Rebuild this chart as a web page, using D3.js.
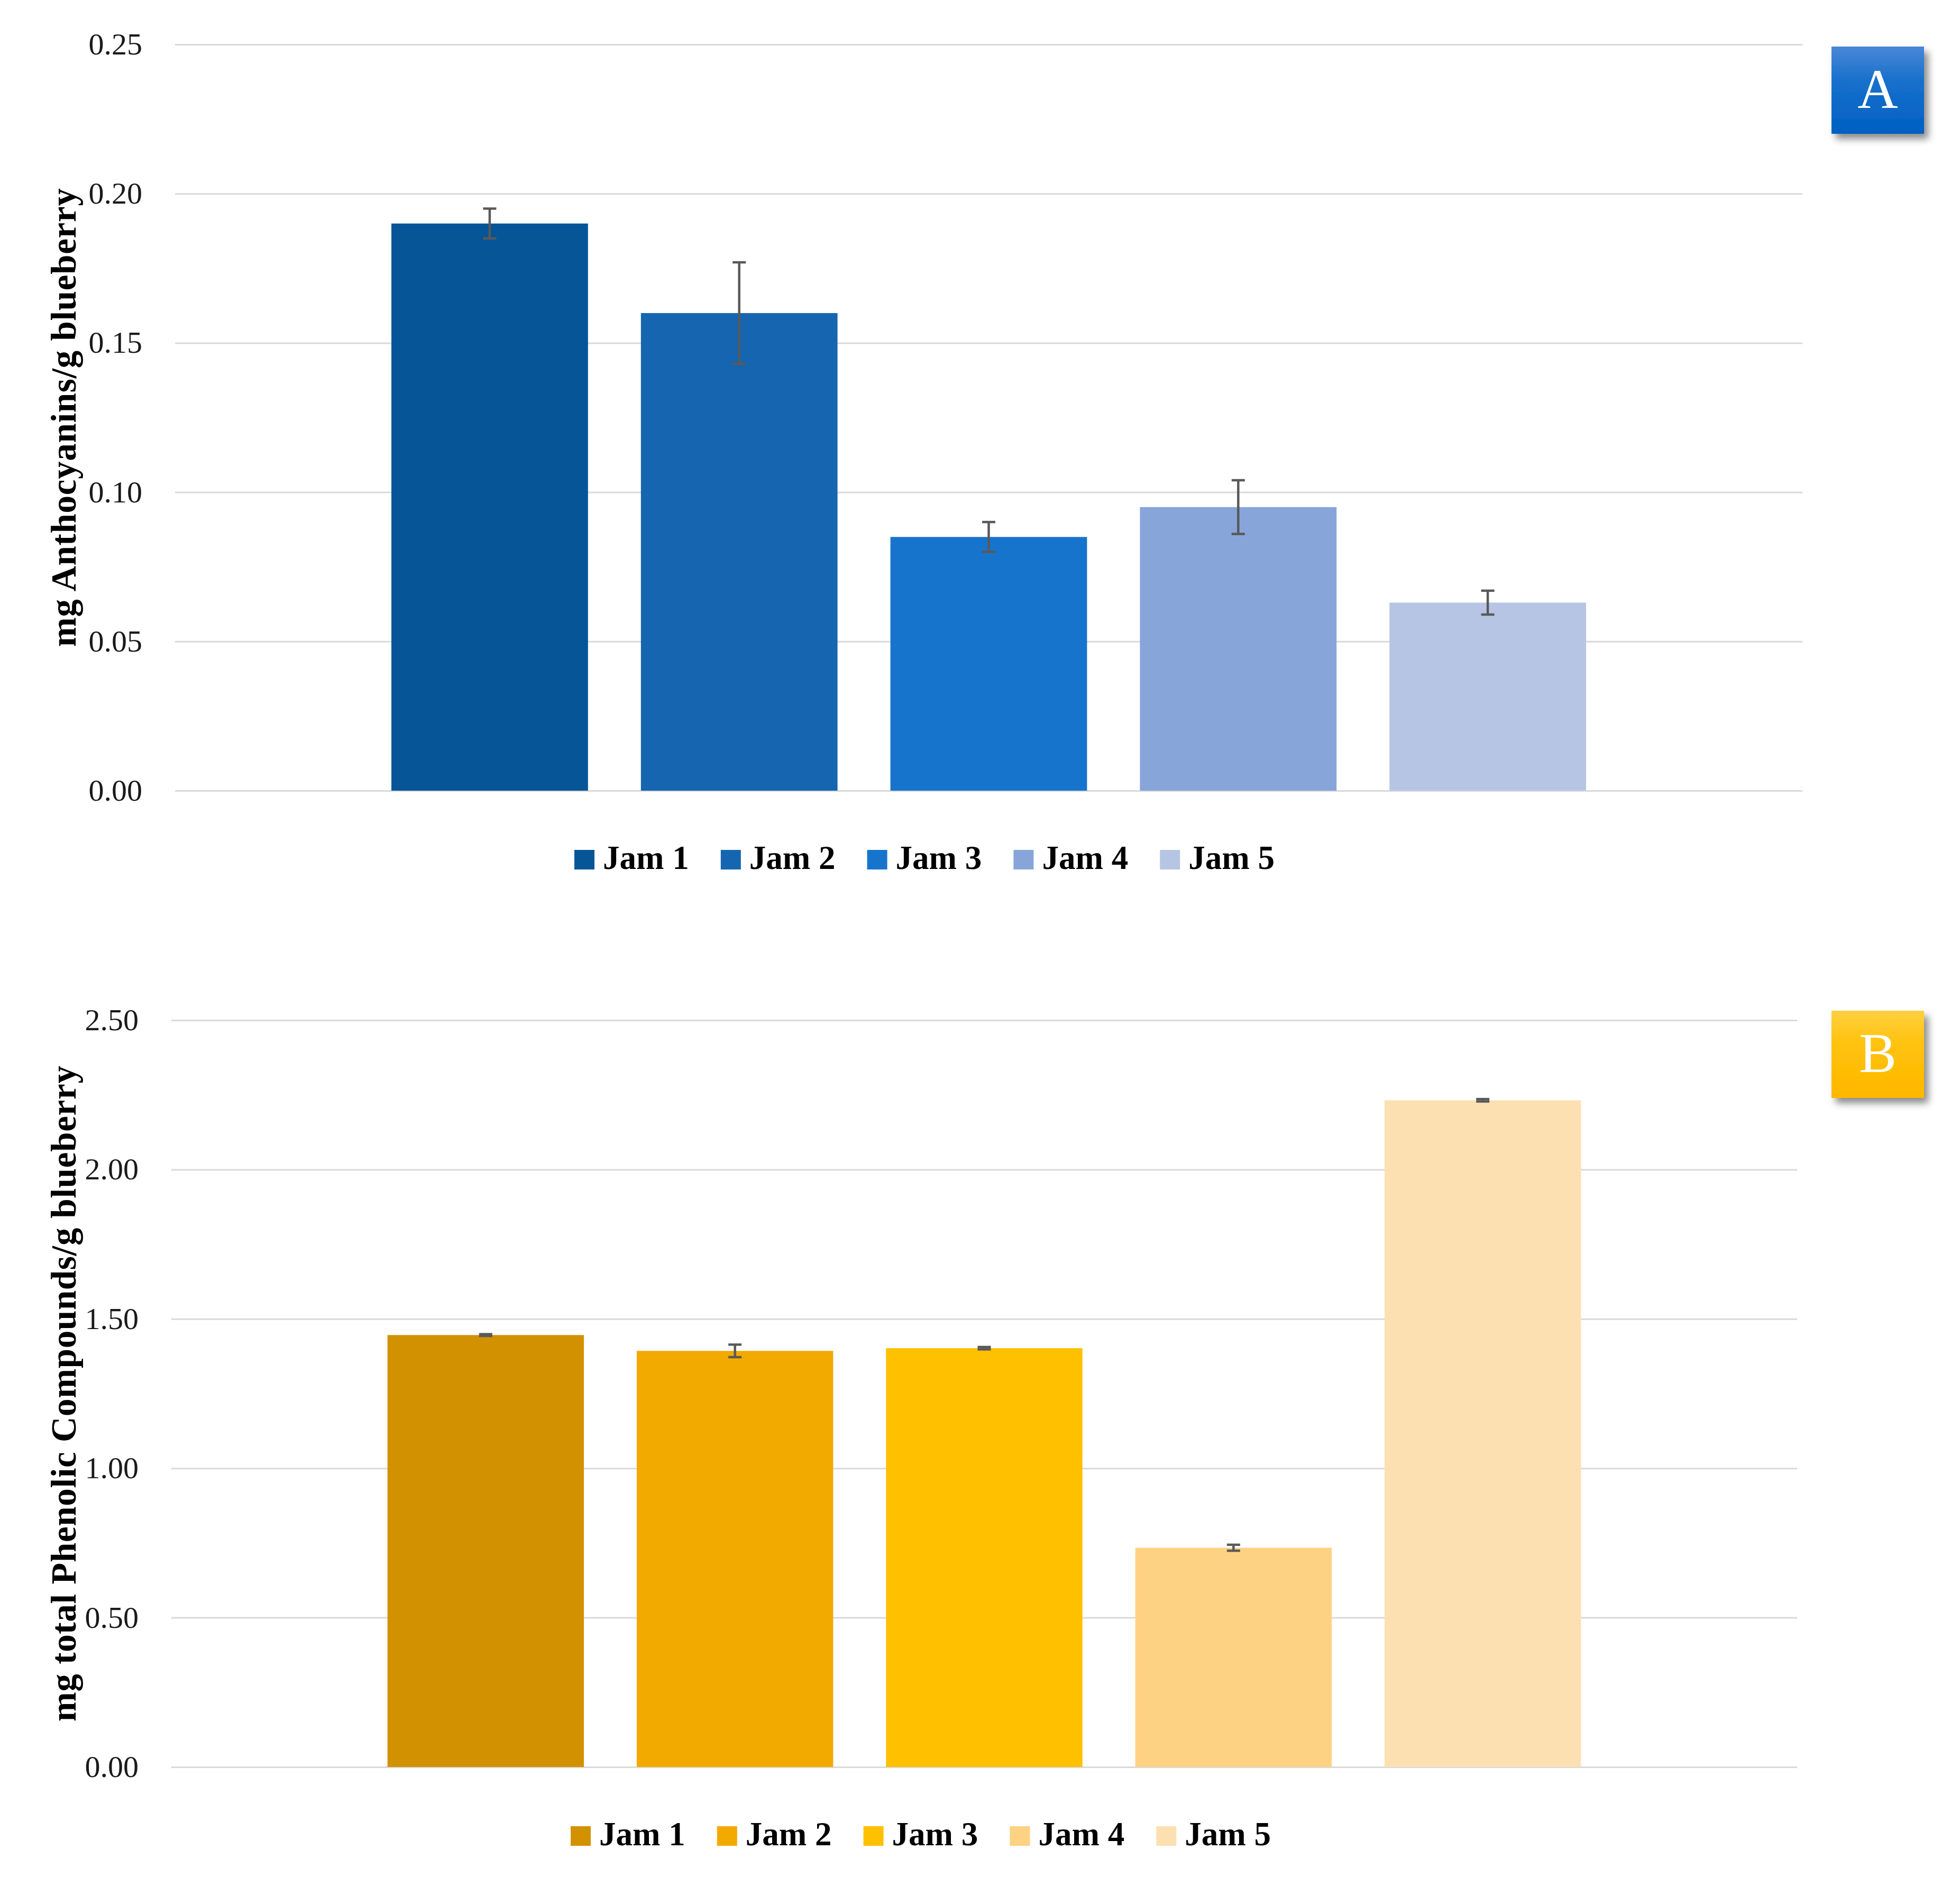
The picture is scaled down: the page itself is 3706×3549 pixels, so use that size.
<!DOCTYPE html>
<html>
<head>
<meta charset="utf-8">
<script src="https://cdn.jsdelivr.net/npm/d3@7"></script>
<style>
  body { margin: 0; background: #fff; }
</style>
</head>
<body>
<script>
// values
var jams = ["Jam 1", "Jam 2", "Jam 3", "Jam 4", "Jam 5"];

var anthocyanins = [0.190, 0.160, 0.085, 0.095, 0.063];
var anthocyaninsSd = [0.005, 0.017, 0.005, 0.009, 0.004];
var ticksA = [0, 0.05, 0.10, 0.15, 0.20, 0.25];
var colorsA = ["#065597", "#1565b0", "#1774cc", "#88a5d9", "#b7c5e5"];

var phenolics = [1.446, 1.393, 1.402, 0.734, 2.232];
var phenolicsSd = [0.003, 0.021, 0.004, 0.010, 0.004];
var ticksB = [0, 0.5, 1.0, 1.5, 2.0, 2.5];
var colorsB = ["#d29200", "#f3aa00", "#ffc000", "#fed283", "#fde0b2"];

var serif = "'Liberation Serif', 'DejaVu Serif', serif";

const svg = d3.select("body")
              .append("svg")
              .attr("width", 3706)
              .attr("height", 3549);

var defs = svg.append("defs");

defs.append("filter")
    .attr("id", "shadow")
    .attr("x", "-20%").attr("y", "-20%")
    .attr("width", "150%").attr("height", "150%")
  .append("feDropShadow")
    .attr("dx", 8).attr("dy", 10)
    .attr("stdDeviation", 7)
    .attr("flood-color", "#000")
    .attr("flood-opacity", 0.45);

function makeGradient(id, top, mid, bottom) {
  var grad = defs.append("linearGradient")
                 .attr("id", id)
                 .attr("x1", 0).attr("y1", 0)
                 .attr("x2", 0).attr("y2", 1);
  grad.append("stop").attr("offset", "0%").attr("stop-color", top);
  grad.append("stop").attr("offset", "40%").attr("stop-color", mid);
  grad.append("stop").attr("offset", "100%").attr("stop-color", bottom);
}
makeGradient("gradA", "#4a87d6", "#1670cc", "#0060c2");
makeGradient("gradB", "#ffd040", "#ffc20a", "#ffb700");

function drawPanel(opt) {
  var data = jams.map(function(j, i) {
    return {jam: j, value: opt.values[i], sd: opt.sd[i], color: opt.colors[i]};
  });

  var g = svg.append("g");

  var y = d3.scaleLinear()
            .domain([0, d3.max(opt.ticks)])
            .range([opt.base, opt.top]);

  var x = d3.scaleBand()
            .domain(jams)
            .range([opt.left, opt.right])
            .paddingInner(0.212)
            .paddingOuter(0.867);

  // gridlines and tick labels
  g.append("g")
    .attr("transform", "translate(" + opt.left + ",0)")
    .call(d3.axisLeft(y)
            .tickValues(opt.ticks)
            .tickSize(-(opt.right - opt.left))
            .tickPadding(62)
            .tickFormat(d3.format(".2f")))
    .attr("font-family", serif)
    .attr("font-size", 58)
    .call(function(a) { a.select(".domain").remove(); })
    .call(function(a) {
      a.selectAll(".tick line").attr("stroke", "#d9d9d9").attr("stroke-width", 3);
    })
    .call(function(a) {
      a.selectAll(".tick text").attr("fill", "#1a1a1a");
    });

  // bars
  g.selectAll(".bar")
    .data(data)
    .enter().append("rect")
      .attr("class", "bar")
      .attr("x", function(d) { return x(d.jam); })
      .attr("y", function(d) { return y(d.value); })
      .attr("width", x.bandwidth())
      .attr("height", function(d) { return y(0) - y(d.value); })
      .attr("fill", function(d) { return d.color; });

  // error bars
  var err = g.selectAll(".err")
    .data(data)
    .enter().append("g")
      .attr("class", "err")
      .attr("stroke", "#595959")
      .attr("stroke-width", 4.5);

  err.append("line")
    .attr("x1", function(d) { return x(d.jam) + x.bandwidth() / 2; })
    .attr("x2", function(d) { return x(d.jam) + x.bandwidth() / 2; })
    .attr("y1", function(d) { return y(d.value + d.sd); })
    .attr("y2", function(d) { return y(d.value - d.sd); });

  [1, -1].forEach(function(sign) {
    err.append("line")
      .attr("x1", function(d) { return x(d.jam) + x.bandwidth() / 2 - 12.5; })
      .attr("x2", function(d) { return x(d.jam) + x.bandwidth() / 2 + 12.5; })
      .attr("y1", function(d) { return y(d.value + sign * d.sd); })
      .attr("y2", function(d) { return y(d.value + sign * d.sd); });
  });

  // y title
  g.append("text")
    .attr("transform", "translate(" + opt.titleX + "," + ((opt.top + opt.base) / 2) + ") rotate(-90)")
    .attr("text-anchor", "middle")
    .attr("font-family", serif)
    .attr("font-weight", "bold")
    .attr("font-size", 67)
    .attr("textLength", opt.titleLength)
    .attr("lengthAdjust", "spacing")
    .attr("fill", "#000")
    .text(opt.title);

  // legend
  var legend = g.selectAll(".legend")
    .data(data)
    .enter().append("g")
      .attr("class", "legend")
      .attr("transform", function(d, i) {
        return "translate(" + (opt.legendX + i * 276.8) + "," + (opt.base + 112) + ")";
      });

  legend.append("rect")
    .attr("width", 38)
    .attr("height", 37)
    .attr("fill", function(d) { return d.color; });

  legend.append("text")
    .attr("x", 54)
    .attr("y", 36)
    .attr("font-family", serif)
    .attr("font-weight", "bold")
    .attr("font-size", 63)
    .attr("fill", "#000")
    .text(function(d) { return d.jam; });

  // panel letter
  var box = g.append("g")
    .attr("transform", "translate(3463," + opt.boxY + ")");
  box.append("rect")
    .attr("width", 175)
    .attr("height", 165)
    .attr("fill", "url(#" + opt.grad + ")")
    .attr("filter", "url(#shadow)");
  box.append("text")
    .attr("x", 87.5)
    .attr("y", 116)
    .attr("text-anchor", "middle")
    .attr("font-family", serif)
    .attr("font-size", 106)
    .attr("fill", "#fff")
    .text(opt.letter);
}

drawPanel({
  values: anthocyanins, sd: anthocyaninsSd, colors: colorsA, ticks: ticksA,
  top: 84, base: 1495, left: 331, right: 3408,
  title: "mg Anthocyanins/g blueberry", titleX: 143, titleLength: 867,
  legendX: 1086, boxY: 88, grad: "gradA", letter: "A"
});

drawPanel({
  values: phenolics, sd: phenolicsSd, colors: colorsB, ticks: ticksB,
  top: 1929, base: 3341, left: 324, right: 3398,
  title: "mg total Phenolic Compounds/g blueberry", titleX: 143, titleLength: 1240,
  legendX: 1079, boxY: 1911, grad: "gradB", letter: "B"
});
</script>
</body>
</html>
